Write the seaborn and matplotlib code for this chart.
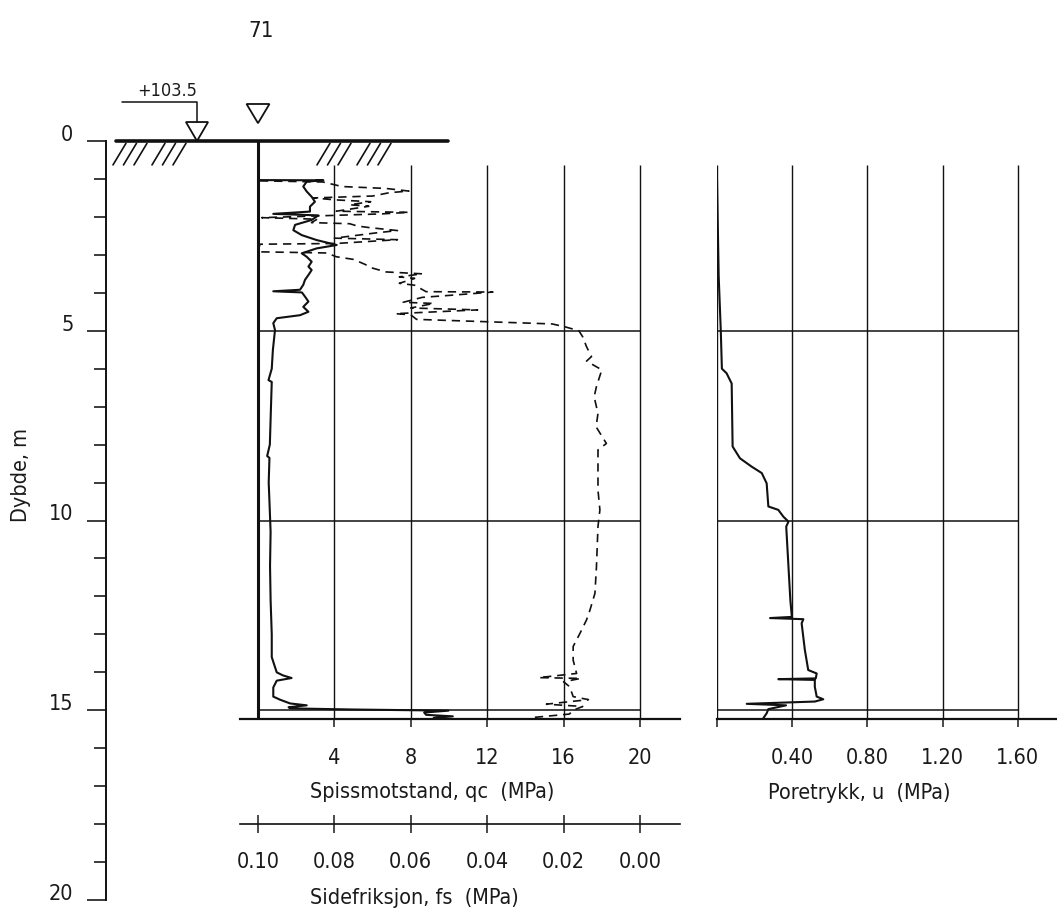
import matplotlib
matplotlib.use("Agg")
import matplotlib.pyplot as plt
import seaborn as sns
import numpy as np

# ---- data read off the sounding ----
# cone resistance qc (MPa) vs depth (m)
qc_depth = [1.03, 1.035, 1.07, 1.20, 1.33, 1.47, 1.60, 1.73, 1.86, 1.92, 1.96, 2.08,
            2.21, 2.35, 2.48, 2.61, 2.74, 2.83, 2.96, 3.05, 3.18, 3.31, 3.40, 3.53,
            3.66, 3.79, 3.92, 3.96, 3.99, 4.10, 4.23, 4.37, 4.50, 4.59, 4.67, 4.80,
            4.98, 5.5, 6.0, 6.3, 6.35, 7.0, 8.0, 8.3, 8.35, 9.0, 9.5, 10.3, 11.2,
            12.1, 13.0, 13.6, 14.0, 14.08, 14.15, 14.22, 14.4, 14.64, 14.72, 14.82,
            14.87, 14.92, 14.95, 14.98, 15.01, 15.06, 15.12, 15.16, 15.2]
qc_vals = [0.0, 3.42, 2.55, 2.37, 2.55, 2.81, 2.98, 2.72, 2.72, 0.8, 3.16, 2.81,
           1.94, 1.85, 2.29, 3.07, 4.12, 3.07, 2.29, 2.55, 2.81, 2.64, 2.81, 2.64,
           2.46, 2.37, 2.2, 0.8, 2.3, 2.46, 2.64, 2.37, 2.64, 2.2, 0.98, 0.8,
           0.89, 0.78, 0.72, 0.55, 0.72, 0.68, 0.62, 0.48, 0.6, 0.56, 0.6, 0.66, 0.63,
           0.66, 0.72, 0.72, 0.98, 1.3, 1.76, 0.98, 0.8, 0.8, 1.15, 1.68,
           2.55, 1.6, 1.7, 5.0, 9.97, 8.7, 8.8, 10.2, 9.2]

# sleeve friction fs (MPa) vs depth (m)
fs_depth = [1.05, 1.08, 1.20, 1.25, 1.32, 1.36, 1.45, 1.50, 1.55, 1.60, 1.68, 1.72,
            1.85, 1.88, 1.92, 2.02, 2.06, 2.15, 2.18, 2.24, 2.28, 2.36, 2.42, 2.56,
            2.60, 2.70, 2.72, 2.92, 2.95, 3.05, 3.12, 3.25, 3.35, 3.45, 3.50, 3.58,
            3.62, 3.75, 3.80, 3.97, 3.98, 4.08, 4.12, 4.25, 4.28, 4.40, 4.45, 4.55,
            4.58, 4.70, 4.82, 4.90, 5.00, 5.16, 5.42, 5.68, 5.80, 6.03, 6.47, 6.74,
            7.18, 7.53, 7.97, 8.14, 8.67, 9.2, 9.72, 10.16, 11.22, 11.92, 12.36, 12.62,
            12.97, 13.32, 13.68, 14.03, 14.14, 14.16, 14.25, 14.38, 14.64, 14.72, 14.84,
            14.9, 15.0, 15.1, 15.2]
fs_vals = [0.0995, 0.083, 0.078, 0.0665, 0.0605, 0.0655, 0.070, 0.0855, 0.080, 0.0705,
           0.076, 0.071, 0.0795, 0.0605, 0.0675, 0.099, 0.0845, 0.086, 0.076, 0.074,
           0.071, 0.0635, 0.069, 0.080, 0.0635, 0.0795, 0.0995, 0.100, 0.082, 0.0795,
           0.075, 0.072, 0.070, 0.0665, 0.057, 0.063, 0.059, 0.063, 0.059, 0.056,
           0.0385, 0.0515, 0.057, 0.062, 0.054, 0.060, 0.0425, 0.064, 0.060, 0.0585,
           0.023, 0.0195, 0.016, 0.015, 0.014, 0.0127, 0.014, 0.010, 0.0114, 0.012,
           0.011, 0.0115, 0.0088, 0.011, 0.011, 0.011, 0.0105, 0.011, 0.0114, 0.0118,
           0.0131, 0.014, 0.0157, 0.0175, 0.0175, 0.0166, 0.0265, 0.0155, 0.020,
           0.0184, 0.0175, 0.0135, 0.0245, 0.015, 0.0175, 0.0185, 0.029]

# pore pressure u (MPa) vs depth (m)
u_depth = [1.03, 3.57, 4.98, 6.0, 6.12, 6.39, 8.05, 8.36, 8.58, 8.75, 9.02, 9.63,
           9.72, 9.90, 10.03, 10.16, 11.22, 12.1, 12.54, 12.57, 12.6, 12.71, 13.41,
           13.94, 14.03, 14.16, 14.18, 14.2, 14.38, 14.64, 14.71, 14.77, 14.83, 14.87,
           14.97, 15.08, 15.21]
u_vals = [0.0, 0.009, 0.02, 0.026, 0.051, 0.078, 0.083, 0.122, 0.184, 0.238, 0.264,
          0.273, 0.326, 0.353, 0.38, 0.368, 0.38, 0.39, 0.398, 0.282, 0.459, 0.45,
          0.467, 0.485, 0.53, 0.525, 0.326, 0.52, 0.52, 0.53, 0.565, 0.52, 0.158,
          0.367, 0.273, 0.264, 0.246]

depth_major = [0, 5, 10, 15, 20]
depth_minor = list(range(0, 21))
qc_ticks = [4, 8, 12, 16, 20]
fs_ticks = [0.10, 0.08, 0.06, 0.04, 0.02, 0.00]
u_ticks = [0, 0.4, 0.8, 1.2, 1.6]
u_ticklabels = ["", "0.40", "0.80", "1.20", "1.60"]
grid_depths = [5, 10, 15]
end_depth = 15.23
grid_top = 0.63
ground_level = "+103.5"
page_no = "71"

sns.set_theme(style="white")
plt.rcParams["font.family"] = ["DejaVu Sans"]
plt.rcParams["font.stretch"] = "condensed"
plt.rcParams["text.color"] = "#1a1a1a"
plt.rcParams["xtick.color"] = "#1a1a1a"
plt.rcParams["ytick.color"] = "#1a1a1a"
INK = "#111111"
FS = 15.5

W, H = 1057, 918
fig = plt.figure(figsize=(W / 100, H / 100), dpi=100)
fig.patch.set_facecolor("white")


def px_axes(x0, y0, x1, y1):
    ax = fig.add_axes([x0 / W, 1 - y1 / H, (x1 - x0) / W, (y1 - y0) / H])
    ax.set_facecolor("none")
    return ax


# ---- depth axis ----
ax_d = px_axes(106, 141, 230, 900)
ax_d.set_ylim(20, 0)
ax_d.set_xlim(0, 1)
for s in ["top", "right", "bottom"]:
    ax_d.spines[s].set_visible(False)
ax_d.spines["left"].set_linewidth(1.4)
ax_d.spines["left"].set_color(INK)
ax_d.set_xticks([])
ax_d.set_yticks(depth_major)
ax_d.set_yticks(depth_minor, minor=True)
ax_d.tick_params(axis="y", which="major", direction="out", length=13.5, width=1.2,
                 pad=10, labelsize=FS, left=True)
ax_d.tick_params(axis="y", which="minor", direction="out", length=8.5, width=1.2, left=True)
for lab in ax_d.get_yticklabels():
    lab.set_va("baseline")
ax_d.text(-0.685, 8.8, "Dybde, m", transform=ax_d.get_yaxis_transform(),
          rotation=90, ha="center", va="center", fontsize=FS)

# ---- qc / fs panel ----
qpx = 19.1
ax_q = px_axes(240, 141, 680, 719)
ax_q.set_xlim(-18 / qpx, 422 / qpx)
ax_q.set_ylim(end_depth, 0)
for s in ["top", "right", "left"]:
    ax_q.spines[s].set_visible(False)
ax_q.spines["bottom"].set_linewidth(1.6)
ax_q.spines["bottom"].set_color(INK)
ax_q.set_yticks([])
ax_q.set_xticks(qc_ticks)
ax_q.set_xticklabels([str(t) for t in qc_ticks])
ax_q.tick_params(axis="x", direction="out", length=6, width=1.1, pad=15,
                 labelsize=FS, bottom=True)

ax_q.vlines(qc_ticks, grid_top, end_depth, color=INK, lw=1.0)
ax_q.hlines(grid_depths, 0, 20, color=INK, lw=1.1)
ax_q.vlines(0, 0, end_depth, color=INK, lw=2.2)

fs_as_q = [20 - 200 * f for f in fs_vals]
sns.lineplot(x=qc_vals, y=qc_depth, sort=False, estimator=None, orient="y",
             ax=ax_q, color=INK, lw=1.5)
sns.lineplot(x=fs_as_q, y=fs_depth, sort=False, estimator=None, orient="y",
             ax=ax_q, color=INK, lw=1.2, linestyle=(0, (5, 3.5)))
ax_q.set_xlabel("")
ax_q.set_ylabel("")

sec = ax_q.secondary_xaxis(-105 / 578, functions=(lambda q: (20 - q) / 200,
                                                  lambda f: 20 - 200 * f))
sec.set_xticks(fs_ticks)
sec.set_xticklabels([f"{v:.2f}" for v in fs_ticks])
sec.tick_params(axis="x", direction="inout", length=13, width=1.1, pad=14, labelsize=FS)
for sp in sec.spines.values():
    sp.set_linewidth(1.2)
    sp.set_color(INK)

xt = ax_q.get_xaxis_transform()
ax_q.text(52 / qpx, -73 / 578, "Spissmotstand, qc  (MPa)", transform=xt,
          ha="left", va="center", fontsize=FS)
ax_q.text(52 / qpx, -179 / 578, "Sidefriksjon, fs  (MPa)", transform=xt,
          ha="left", va="center", fontsize=FS)

# ground surface, hatching, water level marks
ax_q.plot([-142 / qpx, 190 / qpx], [0, 0], color=INK, lw=2.6, clip_on=False)
for start in [-145 / qpx, -106 / qpx, 59 / qpx, 99 / qpx]:
    for i in range(3):
        x0 = start + i * 0.55
        ax_q.plot([x0, x0 + 0.68], [grid_top, 0.06], color=INK, lw=1.2, clip_on=False)

tx = -61 / qpx
ax_q.plot([-136 / qpx, tx, tx], [-1.03, -1.03, -0.5], color=INK, lw=1.1, clip_on=False)
ax_q.fill([tx - 0.58, tx + 0.58, tx], [-0.5, -0.5, 0], facecolor="white",
          edgecolor=INK, lw=1.3, clip_on=False)
ax_q.fill([-0.6, 0.6, 0], [-0.975, -0.975, -0.47], facecolor="white",
          edgecolor=INK, lw=1.3, clip_on=False)
ax_q.text(-91 / qpx, -1.08, ground_level, ha="center", va="bottom", fontsize=13,
          clip_on=False)
ax_q.text(3 / qpx, -2.9, page_no, ha="center", va="center", fontsize=16, clip_on=False)

# ---- pore pressure panel ----
upx = 188.1
ax_u = px_axes(717, 141, 1057, 719)
ax_u.set_xlim(0, 340 / upx)
ax_u.set_ylim(end_depth, 0)
for s in ["top", "right", "left"]:
    ax_u.spines[s].set_visible(False)
ax_u.spines["bottom"].set_linewidth(1.6)
ax_u.spines["bottom"].set_color(INK)
ax_u.set_yticks([])
ax_u.set_xticks(u_ticks)
ax_u.set_xticklabels(u_ticklabels)
ax_u.tick_params(axis="x", direction="out", length=6, width=1.1, pad=15,
                 labelsize=FS, bottom=True)
ax_u.vlines(u_ticks, grid_top, end_depth, color=INK, lw=1.0)
ax_u.hlines(grid_depths, 0, 1.6, color=INK, lw=1.1)
sns.lineplot(x=u_vals, y=u_depth, sort=False, estimator=None, orient="y",
             ax=ax_u, color=INK, lw=1.5)
ax_u.set_xlabel("")
ax_u.set_ylabel("")
ax_u.text(51 / upx, -74 / 578, "Poretrykk, u  (MPa)", transform=ax_u.get_xaxis_transform(),
          ha="left", va="center", fontsize=FS)

fig.savefig("out.png", dpi=100, facecolor="white")
